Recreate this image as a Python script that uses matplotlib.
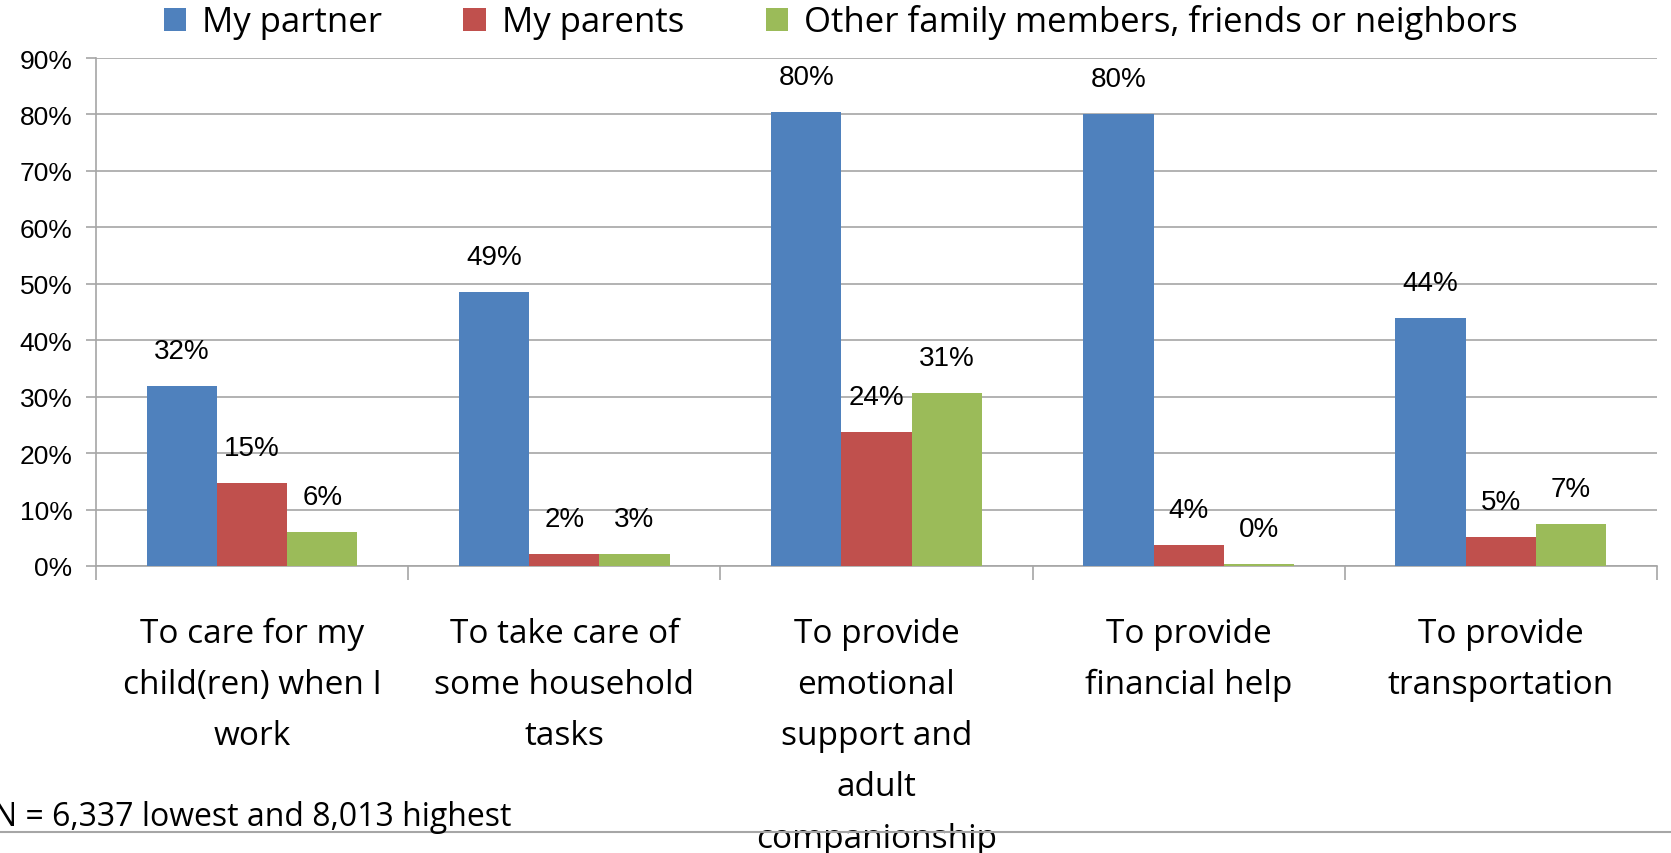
import matplotlib.pyplot as plt
import numpy as np
from matplotlib.lines import Line2D

# categorias e series
categorias = [
    "To care for my\nchild(ren) when I\nwork",
    "To take care of\nsome household\ntasks",
    "To provide\nemotional\nsupport and\nadult\ncompanionship",
    "To provide\nfinancial help",
    "To provide\ntransportation",
]
series = ["My partner", "My parents", "Other family members, friends or neighbors"]
parceiro = [31.9, 48.5, 80.4, 80.0, 44.0]
pais = [14.7, 2.1, 23.8, 3.8, 5.1]
outros = [6.0, 2.1, 30.6, 0.4, 7.4]
rotulos_parceiro = ["32%", "49%", "80%", "80%", "44%"]
rotulos_pais = ["15%", "2%", "24%", "4%", "5%"]
rotulos_outros = ["6%", "3%", "31%", "0%", "7%"]
cores = ["#4F81BD", "#C0504D", "#9BBB59"]
nota = "N = 6,337 lowest and 8,013 highest"

fonte_texto = "Open Sans"
fonte_num = "Liberation Sans"

fig = plt.figure(figsize=(16.71, 8.54), dpi=100)
ax = fig.add_axes([0.0574, 0.3361, 0.9342, 0.5948])

x = np.arange(len(categorias))
largura = 0.225
dados = [parceiro, pais, outros]
rotulos = [rotulos_parceiro, rotulos_pais, rotulos_outros]
for i, (vals, rot) in enumerate(zip(dados, rotulos)):
    pos = x + (i - 1) * largura
    ax.bar(pos, vals, width=largura, color=cores[i], label=series[i], zorder=3)
    for px, v, r in zip(pos, vals, rot):
        ax.annotate(r, (px, v), xytext=(0, 35 * 72 / 100), textcoords="offset points",
                    ha="center", va="center", fontsize=20, family=fonte_num)

ax.set_xlim(-0.5, len(categorias) - 0.5)
ax.set_ylim(0, 90)
ax.set_yticks(np.arange(0, 91, 10))
ax.set_yticklabels([f"{v}%" for v in range(0, 91, 10)], family=fonte_num, fontsize=19)
ax.yaxis.grid(True, color="#A6A6A6", linewidth=1.2, zorder=0)

# rotulos das categorias
ax.set_xticks(x)
ax.set_xticklabels(categorias, family=fonte_texto, fontsize=24, linespacing=1.73)
ax.set_xticks(np.arange(-0.5, len(categorias)), minor=True)
ax.tick_params(axis="x", which="major", length=0, pad=36.5)
ax.tick_params(axis="x", which="minor", length=10, color="#A6A6A6", width=1.2)
ax.tick_params(axis="y", length=7, color="#A6A6A6", width=1.2, pad=10)

for lado in ["top", "right"]:
    ax.spines[lado].set_visible(False)
for lado in ["left", "bottom"]:
    ax.spines[lado].set_color("#A6A6A6")
    ax.spines[lado].set_linewidth(1.2)

fig.legend(loc="center", bbox_to_anchor=(0.503, 1 - 23 / 854), ncol=3, frameon=False,
           prop={"family": fonte_texto, "size": 25}, handlelength=0.65, handleheight=0.65,
           handletextpad=0.45, columnspacing=2.35, borderaxespad=0)

fig.text(-0.004, 1 - 818 / 854, nota, family=fonte_texto, fontsize=23, va="center", ha="left")
fig.add_artist(Line2D([0, 1], [1 - 833 / 854, 1 - 833 / 854], transform=fig.transFigure,
                      color="#A6A6A6", linewidth=1.5))

fig.savefig("out.png", dpi=100)
